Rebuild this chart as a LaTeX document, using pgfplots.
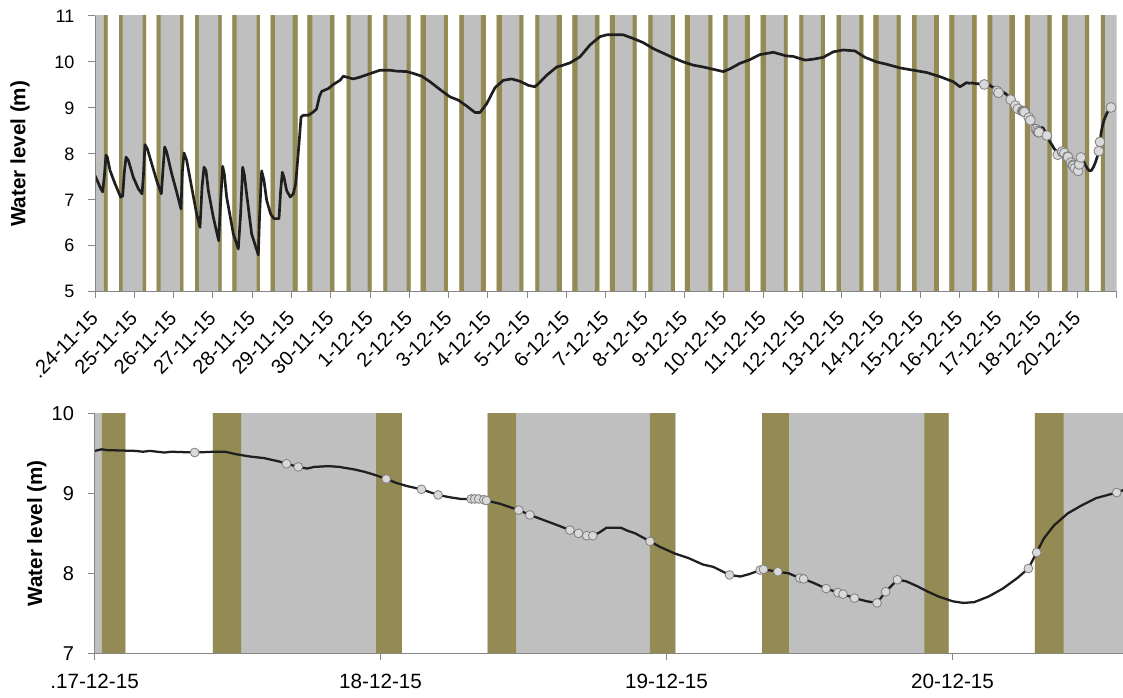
\documentclass[border=0pt]{standalone}
\usepackage{pgfplots}
\pgfplotsset{compat=1.18}
\usepackage{pgfplotstable}
\usepackage{fontspec}
\setmainfont{Liberation Sans}

\definecolor{bandgrey}{HTML}{BFBFBF}
\definecolor{bandolive}{HTML}{948A54}
\definecolor{axisgrey}{HTML}{868686}
\definecolor{levelline}{HTML}{1F1F1F}
\definecolor{markfill}{HTML}{D9D9D9}
\definecolor{markedge}{HTML}{7F7F7F}

% ---- full record, x in tick units (one tick per label) ----
\pgfplotstableread{
t y
0.000 7.53
0.127 7.28
0.195 7.17
0.237 7.50
0.280 7.97
0.314 7.93
0.382 7.64
0.509 7.35
0.653 7.06
0.704 7.08
0.746 7.60
0.789 7.93
0.848 7.86
0.975 7.49
1.103 7.24
1.196 7.13
1.230 7.50
1.272 8.20
1.332 8.11
1.442 7.79
1.569 7.42
1.688 7.13
1.739 7.77
1.773 8.15
1.824 8.04
1.951 7.57
2.078 7.17
2.188 6.80
2.222 7.60
2.265 8.02
2.333 7.86
2.460 7.27
2.587 6.69
2.672 6.40
2.723 7.27
2.774 7.71
2.824 7.64
2.884 7.20
3.011 6.62
3.147 6.11
3.198 6.98
3.248 7.73
3.291 7.56
3.350 7.06
3.520 6.26
3.647 5.93
3.706 6.70
3.757 7.71
3.799 7.56
3.858 7.13
3.986 6.26
4.156 5.80
4.190 6.70
4.241 7.63
4.300 7.42
4.368 6.99
4.470 6.69
4.555 6.59
4.682 6.59
4.724 7.20
4.767 7.60
4.809 7.49
4.877 7.20
4.970 7.06
5.046 7.13
5.106 7.35
5.157 7.86
5.199 8.30
5.242 8.80
5.301 8.84
5.428 8.84
5.555 8.91
5.640 8.98
5.708 9.24
5.768 9.36
5.937 9.42
6.064 9.51
6.234 9.60
6.319 9.69
6.404 9.67
6.573 9.63
6.743 9.67
6.913 9.72
7.252 9.82
7.337 9.82
7.506 9.82
7.677 9.80
7.931 9.79
8.100 9.75
8.313 9.69
8.524 9.57
8.779 9.40
9.033 9.24
9.244 9.17
9.458 9.04
9.669 8.90
9.796 8.90
9.967 9.09
10.178 9.44
10.390 9.60
10.603 9.63
10.814 9.58
11.026 9.49
11.196 9.46
11.323 9.56
11.494 9.71
11.748 9.89
11.916 9.93
12.087 9.98
12.341 10.11
12.595 10.37
12.850 10.55
13.020 10.59
13.443 10.59
13.697 10.51
13.952 10.42
14.206 10.29
14.461 10.19
14.715 10.09
14.970 10.00
15.224 9.93
15.479 9.89
15.733 9.84
15.987 9.79
16.158 9.85
16.412 9.97
16.667 10.05
16.921 10.16
17.260 10.21
17.600 10.13
17.768 10.12
18.066 10.04
18.278 10.06
18.532 10.10
18.787 10.22
19.041 10.26
19.338 10.24
19.593 10.10
19.890 10.00
20.145 9.95
20.483 9.87
20.822 9.82
21.163 9.77
21.501 9.68
21.840 9.57
22.010 9.46
22.181 9.55
22.280 9.53
}\longrecord

% ---- last days, x in days from 17-12-15 ----
\pgfplotstableread{
d y
0.000 9.53
0.025 9.55
0.044 9.54
0.144 9.53
0.169 9.52
0.194 9.53
0.244 9.51
0.269 9.52
0.350 9.51
0.419 9.52
0.456 9.52
0.493 9.49
0.543 9.46
0.593 9.44
0.643 9.40
0.671 9.37
0.712 9.33
0.743 9.31
0.768 9.33
0.818 9.34
0.856 9.33
0.906 9.30
0.943 9.27
0.980 9.23
1.020 9.18
1.055 9.13
1.093 9.09
1.143 9.05
1.201 8.98
1.243 8.95
1.280 8.93
1.317 8.93
1.370 8.91
1.417 8.87
1.483 8.79
1.522 8.73
1.567 8.67
1.627 8.59
1.662 8.54
1.692 8.50
1.721 8.47
1.742 8.47
1.765 8.51
1.790 8.57
1.840 8.57
1.865 8.53
1.890 8.50
1.942 8.40
1.977 8.33
2.027 8.25
2.077 8.19
2.127 8.11
2.164 8.08
2.220 7.98
2.258 7.96
2.289 7.99
2.327 8.04
2.339 8.05
2.389 8.02
2.427 8.00
2.466 7.94
2.479 7.93
2.514 7.88
2.558 7.81
2.599 7.76
2.617 7.74
2.657 7.69
2.701 7.65
2.736 7.63
2.766 7.77
2.807 7.92
2.838 7.90
2.876 7.84
2.914 7.77
2.951 7.71
3.001 7.65
3.038 7.63
3.076 7.64
3.126 7.71
3.176 7.81
3.226 7.94
3.265 8.06
3.294 8.26
3.320 8.44
3.355 8.60
3.403 8.75
3.452 8.85
3.502 8.94
3.574 9.01
3.596 9.04
}\recentrecord

% ---- manual readings ----
\pgfplotstableread{
d y
0.350 9.51
0.671 9.37
0.712 9.33
1.020 9.18
1.143 9.05
1.201 8.98
1.317 8.93
1.329 8.93
1.343 8.93
1.361 8.92
1.370 8.91
1.483 8.79
1.522 8.73
1.662 8.54
1.692 8.50
1.721 8.47
1.742 8.47
1.942 8.40
2.220 7.98
2.327 8.04
2.339 8.05
2.389 8.02
2.466 7.94
2.479 7.93
2.558 7.81
2.599 7.76
2.617 7.74
2.657 7.69
2.736 7.63
2.766 7.77
2.807 7.92
3.265 8.06
3.294 8.26
3.574 9.01
}\readings

% ---- background bands (value 20 = band on, 0 = off) ----
\pgfplotstableread{
t y
0 20
0.323 0
0.611 20
1.298 0
1.570 20
2.247 0
2.545 20
3.224 0
3.494 20
4.198 0
4.471 20
5.158 0
5.402 20
6.089 0
6.405 20
7.041 0
7.336 20
8.033 0
8.288 20
8.982 0
9.270 20
9.949 0
10.221 20
10.898 0
11.204 20
11.883 0
12.145 20
12.832 0
13.104 20
13.784 0
14.079 20
14.758 0
15.013 20
15.707 0
15.987 20
16.667 0
16.939 20
17.626 0
17.921 20
18.575 0
18.873 20
19.550 0
19.804 20
20.501 0
20.796 20
21.476 0
21.738 20
22.435 0
22.715 20
23.410 0
23.664 20
24.344 0
24.613 20
25.300 0
25.598 20
26 20
}\longgrey

\pgfplotstableread{
t y
0.229 20
0.323 0
0.611 20
0.705 0
1.214 20
1.298 0
1.570 20
1.672 0
2.163 20
2.247 0
2.545 20
2.646 0
3.137 20
3.224 0
3.494 20
3.606 0
4.115 20
4.198 0
4.471 20
4.580 0
5.031 20
5.158 0
5.402 20
5.529 0
5.980 20
6.089 0
6.405 20
6.506 0
6.939 20
7.041 0
7.336 20
7.438 0
7.931 20
8.033 0
8.288 20
8.422 0
8.880 20
8.982 0
9.270 20
9.389 0
9.822 20
9.949 0
10.221 20
10.356 0
10.797 20
10.898 0
11.204 20
11.305 0
11.748 20
11.883 0
12.145 20
12.282 0
12.723 20
12.832 0
13.104 20
13.232 0
13.682 20
13.784 0
14.079 20
14.191 0
14.656 20
14.758 0
15.013 20
15.140 0
15.606 20
15.707 0
15.987 20
16.099 0
16.539 20
16.667 0
16.939 20
17.074 0
17.532 20
17.626 0
17.921 20
18.023 0
18.473 20
18.575 0
18.873 20
18.982 0
19.448 20
19.550 0
19.804 20
19.941 0
20.399 20
20.501 0
20.796 20
20.908 0
21.356 20
21.476 0
21.738 20
21.865 0
22.323 20
22.435 0
22.715 20
22.832 0
23.265 20
23.410 0
23.664 20
23.791 0
24.232 20
24.344 0
24.613 20
24.751 0
25.191 20
25.300 0
25.598 20
25.700 0
}\longolive

\pgfplotstableread{
d y
0 20
0.108 0
0.414 20
1.074 0
1.374 20
2.031 0
2.334 20
2.986 0
3.288 20
3.596 20
}\recentgrey

\pgfplotstableread{
d y
0.025 20
0.108 0
0.414 20
0.512 0
0.984 20
1.074 0
1.374 20
1.474 0
1.942 20
2.031 0
2.334 20
2.428 0
2.901 20
2.986 0
3.288 20
3.388 0
}\recentolive

\pgfplotsset{
  levelaxis/.style={
    scale only axis,
    axis on top,
    axis lines=left,
    axis line style={-, axisgrey, line width=0.75pt},
    every tick/.style={axisgrey, line width=0.75pt},
    tick align=outside,
    major tick length=5pt,
    /pgf/number format/assume math mode=true,
    yticklabel shift=7pt,
    ylabel={Water level (m)},
    ylabel style={font=\fontsize{15.5}{16}\selectfont\bfseries, rotate=0},
  },
  band/.style={const plot, draw=none, fill=#1, forget plot},
}

\begin{document}
\begin{tikzpicture}[x=1pt,y=1pt]
\path[use as bounding box] (0,0) rectangle (842.25,523.5);

% upper panel: whole record
\begin{axis}[levelaxis,
  at={(71.25pt,304.7pt)}, anchor=south west,
  width=766.3pt, height=206.8pt,
  xmin=0, xmax=26, ymin=5, ymax=11,
  ytick={5,6,7,8,9,10,11},
  xtick={0,...,26},
  xticklabels={.24-11-15,25-11-15,26-11-15,27-11-15,28-11-15,29-11-15,30-11-15,
    1-12-15,2-12-15,3-12-15,4-12-15,5-12-15,6-12-15,7-12-15,8-12-15,9-12-15,
    10-12-15,11-12-15,12-12-15,13-12-15,14-12-15,15-12-15,16-12-15,17-12-15,
    18-12-15,20-12-15,{}},
  xticklabel style={font=\fontsize{15}{15}\selectfont, xshift=2pt, rotate=45, anchor=east},
  xticklabel shift=10pt,
  yticklabel style={font=\fontsize{13.5}{13.5}\selectfont},
  ylabel style={at={(axis description cs:-0.0734,0.5)}, anchor=center},
]
\addplot[band=bandgrey] table[x=t,y=y] {\longgrey} \closedcycle;
\addplot[band=bandolive] table[x=t,y=y] {\longolive} \closedcycle;
\addplot[levelline, line width=2pt, line join=round] table[x=t,y=y] {\longrecord};
\addplot[levelline, line width=2pt, line join=round] table[x expr=\thisrow{d}+22.28,y=y] {\recentrecord};
\addplot[only marks, mark=*, mark size=3.7pt, mark options={fill=markfill, draw=markedge, line width=0.6pt}]
  table[x expr=\thisrow{d}+22.28,y=y] {\readings};
\end{axis}

% lower panel: last days
\begin{axis}[levelaxis,
  at={(70.95pt,33.5pt)}, anchor=south west,
  width=771.3pt, height=180pt,
  xmin=0, xmax=3.596, ymin=7, ymax=10,
  ytick={7,8,9,10},
  xtick={0,1,2,3},
  xticklabels={.17-12-15,18-12-15,19-12-15,20-12-15},
  xticklabel style={font=\fontsize{15.5}{15.5}\selectfont},
  xticklabel shift=7pt,
  yticklabel style={font=\fontsize{15}{15}\selectfont},
  ylabel style={at={(axis description cs:-0.0561,0.5)}, anchor=center},
]
\addplot[band=bandgrey] table[x=d,y=y] {\recentgrey} \closedcycle;
\addplot[band=bandolive] table[x=d,y=y] {\recentolive} \closedcycle;
\addplot[levelline, line width=1.7pt, line join=round] table[x=d,y=y] {\recentrecord};
\addplot[only marks, mark=*, mark size=3.3pt, mark options={fill=markfill, draw=markedge, line width=0.6pt}]
  table[x=d,y=y] {\readings};
\end{axis}
\end{tikzpicture}
\end{document}
